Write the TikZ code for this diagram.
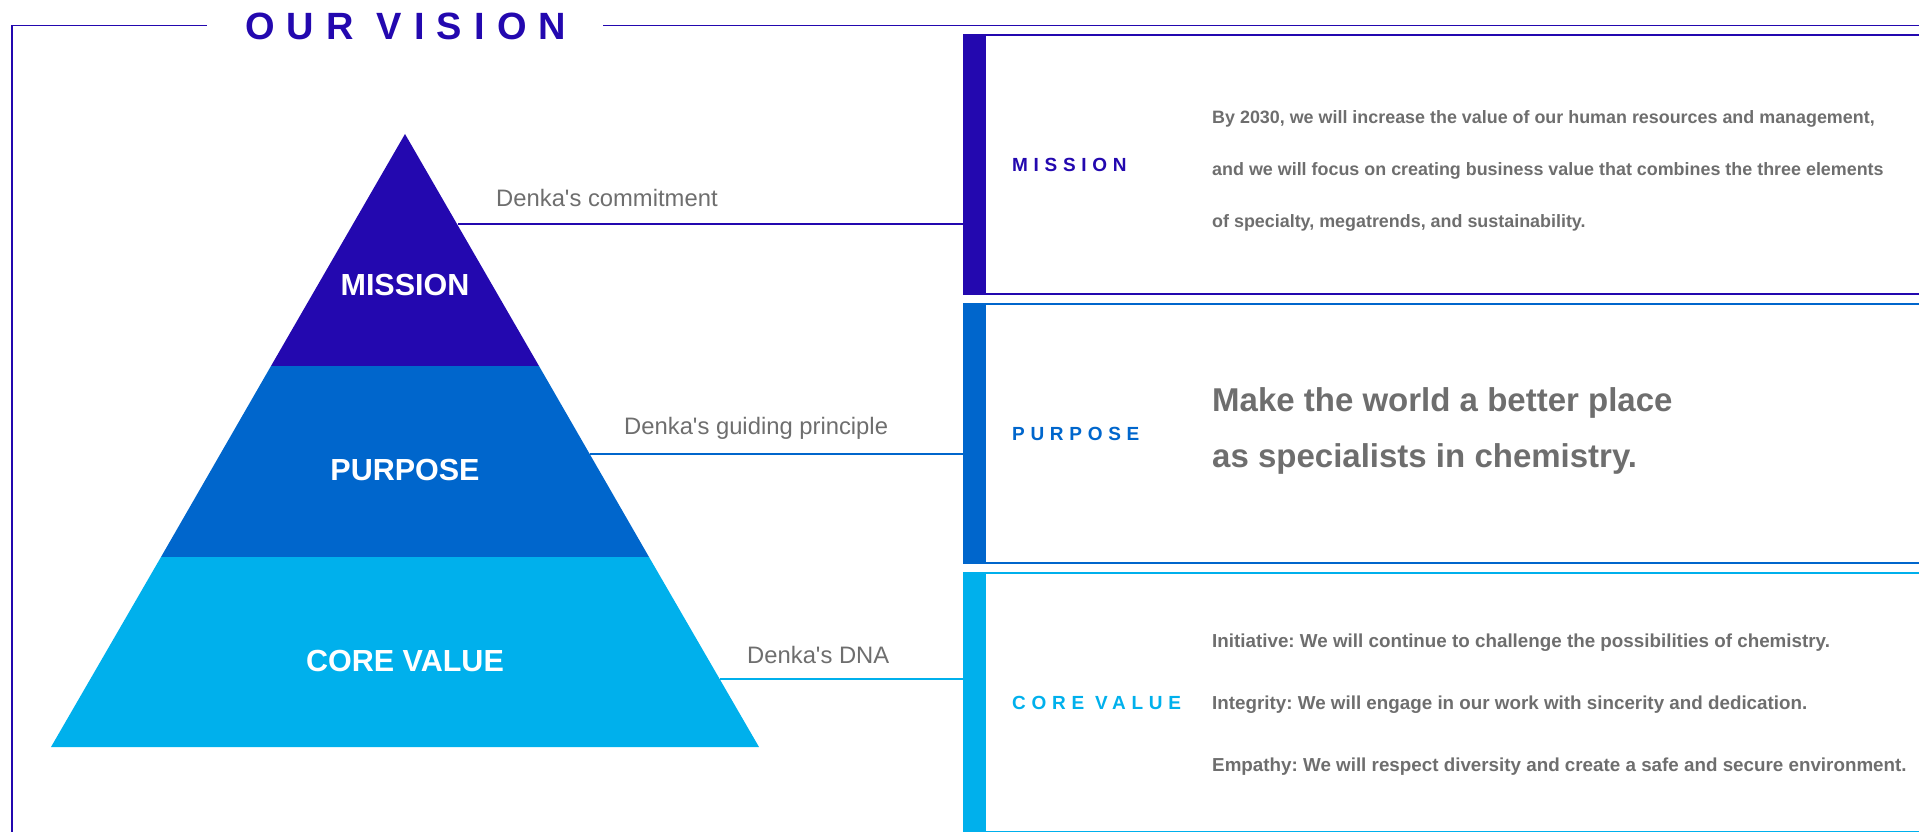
\documentclass[tikz,border=0pt]{standalone}
\usepackage{fontspec}
\setmainfont{Liberation Sans}
\newfontfamily\trackfont[LetterSpace=30]{Liberation Sans}
\newfontfamily\titlefont[LetterSpace=32]{Liberation Sans}
\usetikzlibrary{positioning}
\definecolor{missionblue}{RGB}{35,8,175}
\definecolor{purposeblue}{RGB}{0,102,204}
\definecolor{coreblue}{RGB}{0,176,236}
\definecolor{notegray}{RGB}{110,110,110}
\newcommand{\fs}[1]{\fontsize{#1}{#1}\selectfont}
\frenchspacing

\begin{document}
\begin{tikzpicture}[x=1pt,y=-1pt]
\tikzset{layer/.style={text=white,font=\fs{30.5}\bfseries}}
\tikzset{note/.style={anchor=base west,text=notegray,font=\fs{23.8},inner sep=0pt}}
\tikzset{link/.style={line width=2pt}}
\tikzset{panel/.style={draw=#1,line width=2pt,minimum width=967pt,minimum height=259pt,inner sep=0pt}}
\tikzset{tag/.style={text=#1,font=\trackfont\fs{19}\bfseries,inner sep=0pt}}
\tikzset{body/.style={anchor=north west,text=notegray,align=left,inner sep=0pt}}

\useasboundingbox (0,0) rectangle (1919,832);

% frame and title
\node[anchor=west,inner sep=0pt,text=missionblue,font=\titlefont\fs{38}\bfseries] (title) at (245,26.5) {OUR VISION};
\draw[missionblue,line width=1.5pt] (12,832) |- (207,25.5);
\draw[missionblue,line width=1.5pt] (603,25.5) -- (1919,25.5);

% pyramid
\coordinate (apex) at (405,134);
\coordinate (m left) at (271,366); \coordinate (m right) at (539,366);
\coordinate (p left) at (161,557); \coordinate (p right) at (649,557);
\coordinate (c left) at (51,747); \coordinate (c right) at (759,747);
\fill[missionblue] (apex) -- (m right) -- (m left) -- cycle;
\fill[purposeblue] (m left) -- (m right) -- (p right) -- (p left) -- cycle;
\fill[coreblue] (p left) -- (p right) -- (c right) -- (c left) -- cycle;
\node[layer] (mission) at (405,285) {MISSION};
\node[layer] (purpose) at (405,470) {PURPOSE};
\node[layer] (core) at (405,661) {CORE VALUE};

% panels
\node[panel=missionblue,anchor=north west] (mpanel) at (963,34) {};
\node[panel=purposeblue,below=8pt of mpanel] (ppanel) {};
\node[panel=coreblue,below=8pt of ppanel] (cpanel) {};
\foreach \p/\c in {mpanel/missionblue,ppanel/purposeblue,cpanel/coreblue}
  \fill[\c] (\p.north west) rectangle ([xshift=23pt]\p.south west);

\node[tag=missionblue,right=49pt of mpanel.west] (mtag) {MISSION};
\node[tag=purposeblue,right=49pt of ppanel.west] (ptag) {PURPOSE};
\node[tag=coreblue,right=49pt of cpanel.west] (ctag) {CORE VALUE};

\node[body,font=\fontsize{17.9}{52}\selectfont\bfseries] (mtext) at (1212,110.2)
  {By 2030, we will increase the value of our human resources and management,\\
   and we will focus on creating business value that combines the three elements\\
   of specialty, megatrends, and sustainability.};
\node[body,font=\fontsize{33}{56}\selectfont\bfseries] (ptext) at (1212,386.9)
  {Make the world a better place\\as specialists in chemistry.};
\node[body,font=\fontsize{18.8}{62}\selectfont\bfseries] (ctext) at (1212,633.2)
  {Initiative: We will continue to challenge the possibilities of chemistry.\\
   Integrity: We will engage in our work with sincerity and dedication.\\
   Empathy: We will respect diversity and create a safe and secure environment.};

% connectors and notes
\coordinate (m edge) at (458,224);
\coordinate (p edge) at (590,454);
\coordinate (c edge) at (720,679);
\draw[link,missionblue] (m edge) -- (m edge -| mpanel.west);
\draw[link,purposeblue] (p edge) -- (p edge -| ppanel.west);
\draw[link,coreblue] (c edge) -- (c edge -| cpanel.west);
\node[note] (mnote) at (496,206) {Denka\textquotesingle s commitment};
\node[note] (pnote) at (624,434) {Denka\textquotesingle s guiding principle};
\node[note] (cnote) at (747,663) {Denka\textquotesingle s DNA};

\end{tikzpicture}
\end{document}
